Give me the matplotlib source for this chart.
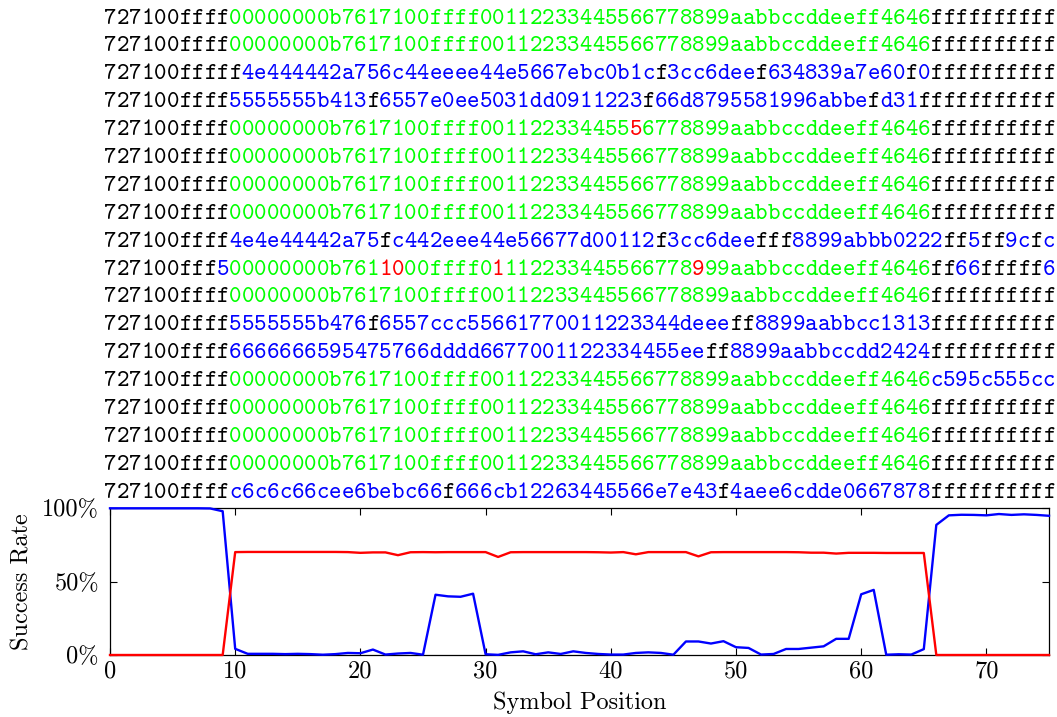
import matplotlib
matplotlib.use("Agg")
import matplotlib.pyplot as plt
import matplotlib.transforms as mtransforms

plt.rcParams["axes.formatter.use_mathtext"] = True

# Reference symbol sequence (the decoded part of a correct frame)
REF = "00000000b7617100ffff00112233445566778899aabbccddeeff4646"

# Received frames, as runs of (text, colour code)
# k = black, g = green (matches reference), b = blue (wrong), r = red (bit error)
rows = [
    [("727100ffff", "k"), (REF, "g"), ("ffffffffff", "k")],
    [("727100ffff", "k"), (REF, "g"), ("ffffffffff", "k")],
    [("727100fffff", "k"), ("4e444442a756c44eeee44e5667ebc0b1c", "b"), ("f", "k"),
     ("3cc6dee", "b"), ("f", "k"), ("634839a7e60", "b"), ("f", "k"), ("0", "b"),
     ("ffffffffff", "k")],
    [("727100ffff", "k"), ("5555555b413", "b"), ("f", "k"), ("6557e0ee5031dd0911223", "b"),
     ("f", "k"), ("66d8795581996abbe", "b"), ("f", "k"), ("d31", "b"), ("fffffffffff", "k")],
    [("727100ffff", "k"), ("00000000b7617100ffff001122334455", "g"), ("5", "r"),
     ("6778899aabbccddeeff4646", "g"), ("ffffffffff", "k")],
    [("727100ffff", "k"), (REF, "g"), ("ffffffffff", "k")],
    [("727100ffff", "k"), (REF, "g"), ("ffffffffff", "k")],
    [("727100ffff", "k"), (REF, "g"), ("ffffffffff", "k")],
    [("727100ffff", "k"), ("4e4e44442a75", "b"), ("f", "k"), ("c442eee44e56677d00112", "b"),
     ("f", "k"), ("3cc6dee", "b"), ("fff", "k"), ("8899abbb0222", "b"), ("ff", "k"),
     ("5", "b"), ("ff", "k"), ("9c", "b"), ("f", "k"), ("c", "b")],
    [("727100fff", "k"), ("5", "b"), ("00000000b761", "g"), ("10", "r"), ("00ffff0", "g"),
     ("1", "r"), ("112233445566778", "g"), ("9", "r"), ("99aabbccddeeff4646", "g"),
     ("ff", "k"), ("66", "b"), ("fffff", "k"), ("6", "b")],
    [("727100ffff", "k"), (REF, "g"), ("ffffffffff", "k")],
    [("727100ffff", "k"), ("5555555b476", "b"), ("f", "k"), ("6557ccc55661770011223344deee", "b"),
     ("ff", "k"), ("8899aabbcc1313", "b"), ("ffffffffff", "k")],
    [("727100ffff", "k"), ("6666666595475766dddd6677001122334455ee", "b"), ("ff", "k"),
     ("8899aabbccdd2424", "b"), ("ffffffffff", "k")],
    [("727100ffff", "k"), (REF, "g"), ("c595c555cc", "b")],
    [("727100ffff", "k"), (REF, "g"), ("ffffffffff", "k")],
    [("727100ffff", "k"), (REF, "g"), ("ffffffffff", "k")],
    [("727100ffff", "k"), (REF, "g"), ("ffffffffff", "k")],
    [("727100ffff", "k"), ("c6c6c66cee6bebc66", "b"), ("f", "k"), ("666cb12263445566e7e43", "b"),
     ("f", "k"), ("4aee6cdde0667878", "b"), ("ffffffffff", "k")],
]

# Success rate per symbol position (percent)
positions = list(range(76))
rate_blue = [
    99.8, 99.8, 99.8, 99.8, 99.8, 99.8, 99.8, 99.8, 99.7, 97.8,
    4.2, 0.8, 0.8, 0.8, 0.6, 0.8, 0.6, 0.2, 0.6, 1.4,
    1.2, 3.7, 0.3, 1.0, 1.4, 0.2, 41.0, 39.9, 39.6, 41.7,
    0.5, 0.1, 1.8, 2.5, 0.5, 1.8, 0.7, 2.5, 1.4, 0.7,
    0.3, 0.3, 1.4, 1.8, 1.4, 0.2, 9.2, 9.2, 7.8, 9.4,
    5.3, 4.8, 0.3, 0.7, 4.1, 4.1, 5.0, 5.9, 11.0, 11.0,
    41.3, 44.3, 0.2, 0.5, 0.3, 4.0, 88.5, 95.0, 95.4, 95.3,
    95.0, 95.9, 95.3, 95.7, 95.3, 94.7,
]
rate_red = [
    0, 0, 0, 0, 0, 0, 0, 0, 0, 0,
    70.0, 70.1, 70.1, 70.1, 70.1, 70.1, 70.1, 70.1, 70.1, 70.0,
    69.5, 69.8, 69.8, 67.9, 69.9, 70.0, 69.9, 70.0, 70.0, 70.0,
    70.0, 66.7, 69.9, 70.0, 70.0, 70.0, 70.0, 70.0, 70.0, 69.9,
    69.7, 70.0, 68.5, 70.0, 70.0, 70.0, 70.0, 67.1, 69.9, 70.0,
    70.0, 70.0, 70.0, 70.0, 70.0, 69.9, 69.6, 69.6, 69.0, 69.5,
    69.5, 69.5, 69.4, 69.4, 69.4, 69.4, 0, 0, 0, 0,
    0, 0, 0, 0, 0, 0,
]
xticks = [0, 10, 20, 30, 40, 50, 60, 70]
yticks = [0, 50, 100]
ytick_labels = ["0%", "50%", "100%"]

colors = {"k": "black", "g": "#00ff00", "b": "#0000ff", "r": "#ff0000"}

W, H = 1057, 717
fig = plt.figure(figsize=(W / 100, H / 100), dpi=100)
ax = fig.add_axes([110 / W, 1 - 655 / H, (1049 - 110) / W, (655 - 508) / H])

ax.plot(positions, rate_blue, color="blue", lw=1.7, clip_on=False, zorder=3)
ax.plot(positions, rate_red, color="red", lw=1.7, clip_on=False, zorder=3)

ax.set_xlim(0, 75)
ax.set_ylim(0, 100)
ax.set_xticks(xticks)
ax.set_xticklabels([str(t) for t in xticks], fontfamily="cmr10", fontsize=17.5)
ax.set_yticks(yticks)
ax.set_yticklabels(ytick_labels, fontfamily="cmr10", fontsize=17.5)
ax.tick_params(direction="in", length=5, width=0.8, top=True, right=True)
ax.tick_params(axis="x", pad=4)
ax.tick_params(axis="y", pad=8)
for s in ax.spines.values():
    s.set_linewidth(0.9)

ax.set_xlabel("Symbol Position", fontfamily="cmr10", fontsize=17.5, va="center")
ax.xaxis.set_label_coords(0.5, (655 - 703) / 147)
ax.set_ylabel("Success Rate", fontfamily="cmr10", fontsize=17.5, va="center")
ax.yaxis.set_label_coords((22 - 110) / 939, 0.5)

# frames drawn above the plot, one character per symbol position
trans = mtransforms.blended_transform_factory(ax.transData, fig.transFigure)
for k, runs in enumerate(rows):
    baseline = 1 - (23.5 + 27.9 * k) / H
    i = 0
    for seg, c in runs:
        for ch in seg:
            fig.text(i, baseline, ch, transform=trans, ha="center", va="baseline",
                     fontfamily="cmtt10", fontsize=17.1, color=colors[c])
            i += 1

fig.savefig("out.png", dpi=100)
